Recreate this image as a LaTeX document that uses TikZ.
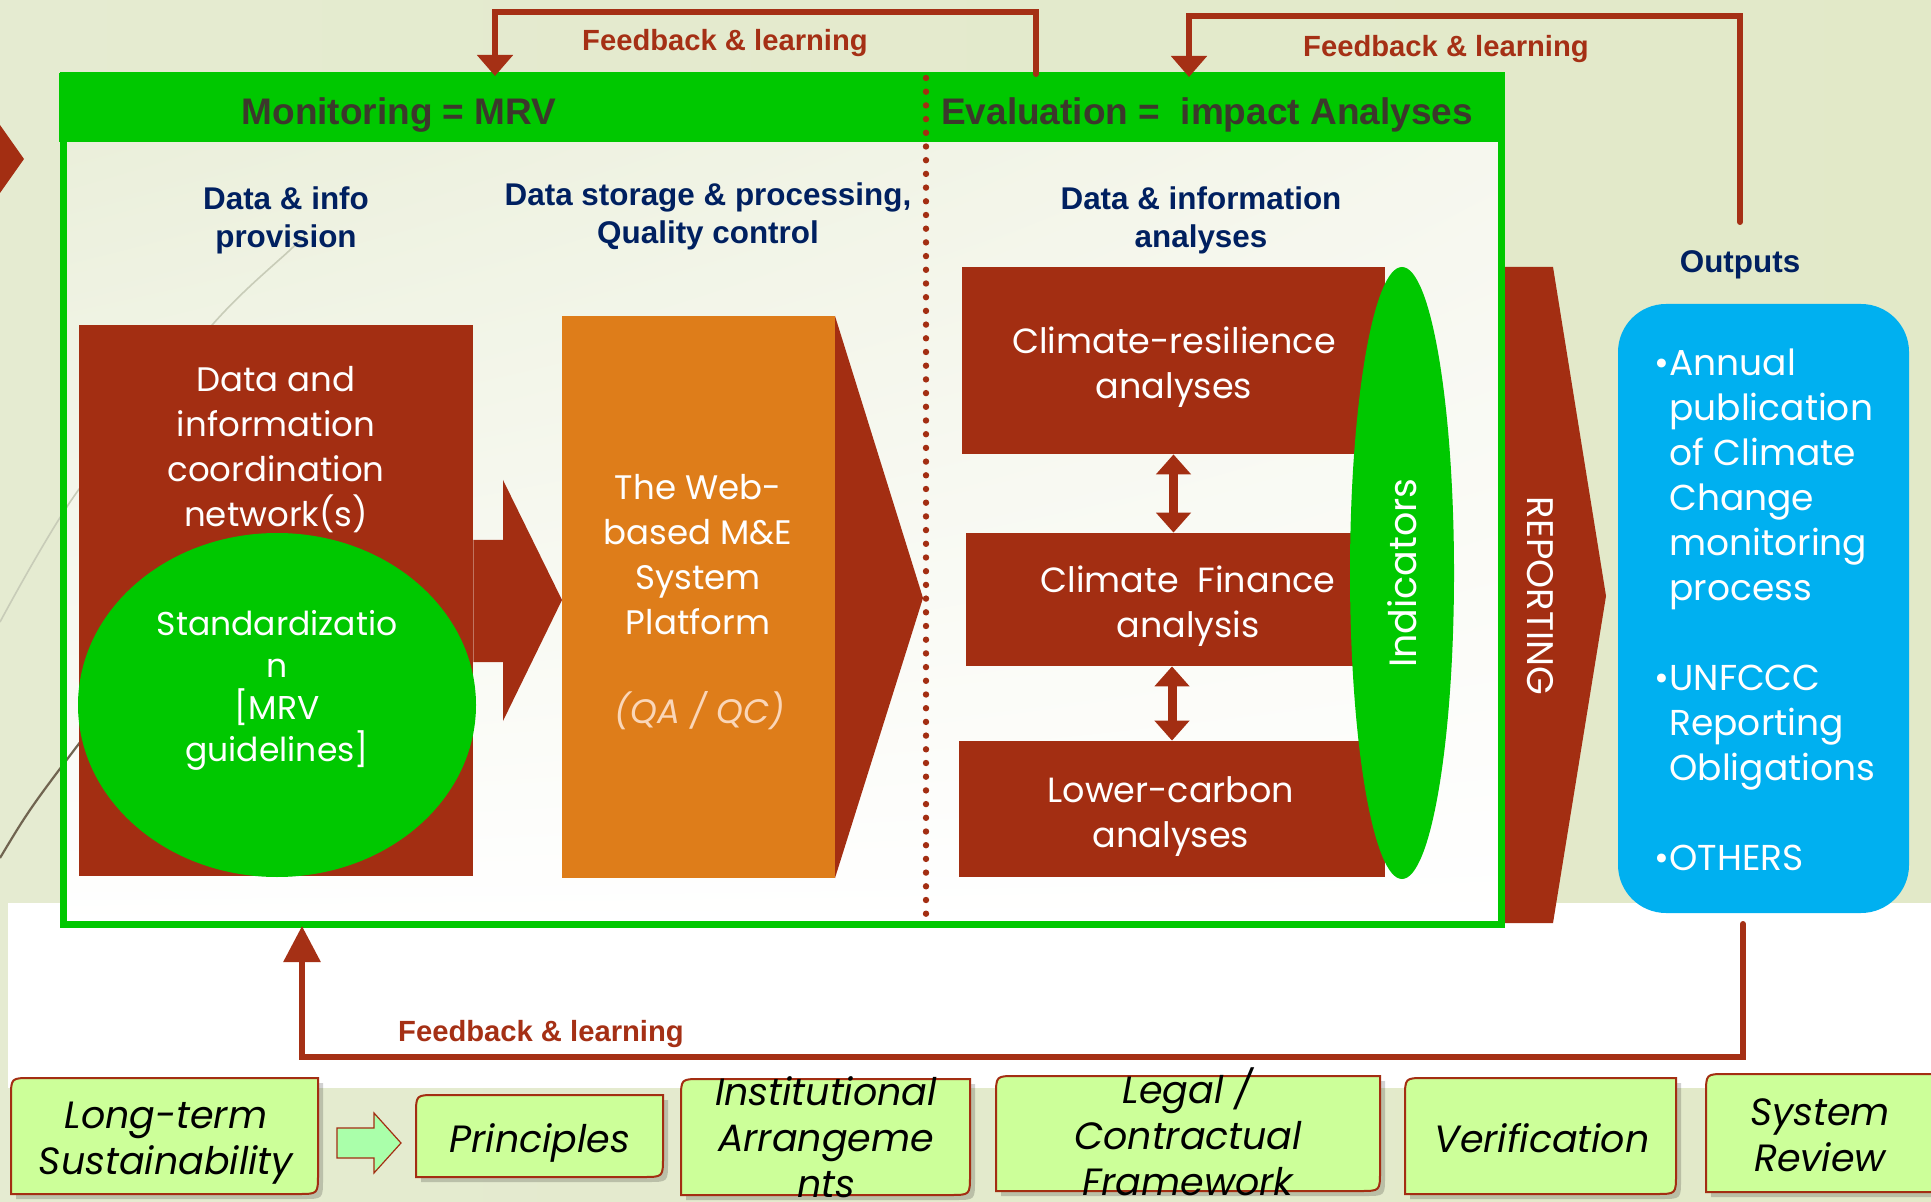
\documentclass[tikz,border=0pt]{standalone}
\usepackage{fontspec}
\setmainfont{Liberation Sans}
\newfontfamily\gothic{Poppins}
\usepackage{tikz}
\usetikzlibrary{positioning}
\usetikzlibrary{shapes.geometric}
\usetikzlibrary{arrows.meta}
\usetikzlibrary{shadings}

\definecolor{brick}{RGB}{163,46,18}
\definecolor{fbred}{RGB}{165,48,21}
\definecolor{mrvgreen}{RGB}{0,200,0}
\definecolor{platorange}{RGB}{222,125,26}
\definecolor{outcyan}{RGB}{0,176,240}
\definecolor{navytext}{RGB}{0,32,96}
\definecolor{headgrey}{RGB}{60,56,44}
\definecolor{palegreen}{RGB}{204,255,153}
\definecolor{arrowgreen}{RGB}{170,255,170}
\definecolor{qapeach}{RGB}{250,214,184}
\definecolor{bgleft}{RGB}{229,235,209}
\definecolor{bgmid}{RGB}{246,247,238}
\definecolor{bgright}{RGB}{226,233,200}
\definecolor{decoline}{RGB}{200,204,184}
\definecolor{darkdeco}{RGB}{112,100,80}

\tikzset{
	headtxt/.style={text=headgrey, font=\bfseries\fontsize{18.5}{22}\selectfont},
	coltxt/.style={text=navytext, align=center, font=\bfseries\fontsize{15.7}{19}\selectfont},
	fbtxt/.style={text=fbred, font=\bfseries\fontsize{14.6}{17}\selectfont},
	fbline/.style={draw=fbred, line width=3pt, line cap=round},
	boxtxt/.style={text=white, align=center, font=\gothic\fontsize{17}{22.5}\selectfont},
	brickbox/.style={fill=brick, inner sep=0pt},
	dblarrow/.style={draw=brick, line width=4.5pt, arrows={Triangle[width=17pt,length=10pt]-Triangle[width=17pt,length=10pt]}},
	bottxt/.style={text=black, align=center, font=\gothic\itshape\fontsize{19}{23}\selectfont},
}

% bottom box: top left and bottom right corners rounded
\newcommand{\tipbox}[4]{%
	\fill[black, opacity=0.18] (#1+5,#4+5) -- (#1+5,#2+25) .. controls (#1+5,#2+5) .. (#1+25,#2+5) -- (#3+5,#2+5) -- (#3+5,#4-15) .. controls (#3+5,#4+5) .. (#3-15,#4+5) -- cycle;
	\filldraw[fill=palegreen, draw=brick, line width=1pt] (#1,#4) -- (#1,#2+20) .. controls (#1,#2) .. (#1+20,#2) -- (#3,#2) -- (#3,#4-20) .. controls (#3,#4) .. (#3-20,#4) -- cycle;}

\begin{document}
\begin{tikzpicture}[x=0.5pt, y=-0.5pt]
	\useasboundingbox (0,0) rectangle (1931,1202);
	\clip (0,0) rectangle (1931,1202);
	
	% background
	\shade[left color=bgleft, middle color=bgmid, right color=bgright] (0,0) rectangle (1931,1202);
	\fill[white] (8,903) rectangle (1931,1088);
	\shade[upper left=bgleft!80!white, upper right=bgmid, lower left=white, lower right=white] (63,142) rectangle (1501,924);
	\draw[decoline, line width=0.8pt] plot[smooth] coordinates {(305,236) (290,250) (213,324) (77,492) (0,622)};
	\draw[darkdeco, line width=1.1pt] (0,858) .. controls (30,808) .. (100,716);
	\fill[brick] (0,125) -- (24,159) -- (0,193) -- cycle;
	
	% monitoring / evaluation frame
	\fill[mrvgreen] (59,73) rectangle (1505,142);
	\node[headtxt] (monhead) at (399,115) {Monitoring = MRV};
	\node[headtxt] (evalhead) at (1207,115) {Evaluation =\ \ impact Analyses};
	
	\node[coltxt] (provhead) at (286,220) {Data \& info\\provision};
	\node[coltxt] (storhead) at (708,216) {Data storage \& processing,\\Quality control};
	\node[coltxt] (anahead) at (1201,220) {Data \& information\\analyses};
	\node[coltxt] (outhead) at (1740,265) {Outputs};
	
	% monitoring part
	\node[brickbox, minimum width=197pt, minimum height=275.5pt] (netbox) at (276,600.5) {};
	\node[boxtxt] (nettxt) at (276,450) {Data and\\information\\coordination\\network(s)};
	\node[ellipse, fill=mrvgreen, inner sep=0pt, minimum width=199pt, minimum height=172pt] (stdell) at (277,705) {};
	\node[boxtxt, font=\gothic\fontsize{16.5}{21}\selectfont] (stdtxt) at (277,690) {Standardizatio\\n\\{[}MRV\\guidelines{]}};
	\fill[brick] (netbox.east |- 0,540) -- (503,540) -- (503,480) -- (562,600) -- (503,721) -- (503,662) -- (netbox.east |- 0,662) -- cycle;
	
	\fill[brick] (835,316) -- (923,598) -- (835,878) -- cycle;
	\node[fill=platorange, inner sep=0pt, minimum width=136.5pt, minimum height=281pt] (platbox) at (698.5,597) {};
	\node[boxtxt] (plattxt) at (698,555) {The Web-\\based M\&E\\System\\Platform};
	\node[boxtxt, text=qapeach, font=\gothic\itshape\fontsize{17}{22.5}\selectfont] (qaqc) at (700,711) {(QA / QC)};
	
	% evaluation part
	\node[brickbox, minimum width=222pt, minimum height=66.5pt] (cfbox) at (1188,599.5) {};
	\node[boxtxt, font=\gothic\fontsize{17.5}{22.5}\selectfont] (cftxt) at (1188,606) {Climate\ \ Finance\\analysis};
	\node[brickbox, minimum width=211.5pt, minimum height=93.5pt] (crbox) at (1173.5,360.5) {};
	\node[boxtxt, font=\gothic\fontsize{17.5}{22.5}\selectfont] (crtxt) at (1174,367) {Climate-resilience\\analyses};
	\node[brickbox, minimum width=213pt, minimum height=68pt] (lcbox) at (1172,809) {};
	\node[boxtxt, font=\gothic\fontsize{17.5}{22.5}\selectfont] (lctxt) at (1171,817) {Lower-carbon\\analyses};
	\draw[dblarrow] (crbox.south) -- (crbox.south |- cfbox.north);
	\draw[dblarrow] (lcbox.north |- cfbox.south) -- (lcbox.north);
	\node[ellipse, fill=mrvgreen, inner sep=0pt, rotate=90, minimum width=306pt, minimum height=52pt, boxtxt, font=\gothic\fontsize{19}{22}\selectfont] (indell) at (1402,573) {Indicators};
	
	\draw[mrvgreen, line width=3.5pt] (63,76) rectangle (1501,924);
	\draw[brick, line width=3.2pt, line cap=round, dash pattern=on 0pt off 6.85pt] (926,78) -- (926,920);
	
	% reporting and outputs
	\fill[brick] (1505,267) -- (1553,267) -- (1606,596) -- (1553,923) -- (1505,923) -- cycle;
	\node[boxtxt, rotate=-90, font=\gothic\fontsize{18.5}{20}\selectfont] (reptxt) at (1540,596) {REPORTING};
	\node[fill=outcyan, rounded corners=24pt, inner sep=0pt, minimum width=145.5pt, minimum height=304.5pt] (outbox) at (1763.5,608.5) {};
	\node[boxtxt, inner sep=0pt, align=left, anchor=north west, font=\gothic\fontsize{18}{22.5}\selectfont] (outlist) at (1669,348) {\llap{•}Annual\\publication\\of Climate\\Change\\monitoring\\process\\[22.5pt]\llap{•}UNFCCC\\Reporting\\Obligations\\[22.5pt]\llap{•}OTHERS};
	
	% feedback loops
	\coordinate (fbAstart) at (1036,74);
	\coordinate (fbAend) at (495,76);
	\draw[fbline, -{Triangle[width=17.5pt,length=10.5pt]}] (fbAstart) -- ++(0,-62) -| (fbAend);
	\node[fbtxt] (fbtxtA) at (725,43) {Feedback \& learning};
	
	\coordinate (fbBstart) at (1740,222);
	\coordinate (fbBend) at (1189,77);
	\draw[fbline, -{Triangle[width=17.5pt,length=10.5pt]}] (fbBstart) -- ++(0,-206) -| (fbBend);
	\node[fbtxt] (fbtxtB) at (1446,49) {Feedback \& learning};
	
	\coordinate (fbCstart) at (1743,924);
	\coordinate (fbCend) at (302,926);
	\draw[fbline, -{Triangle[width=18pt,length=18pt]}] (fbCstart) -- ++(0,133) -| (fbCend);
	\node[fbtxt] (fbtxtC) at (541,1034) {Feedback \& learning};
	
	% bottom row
	\tipbox{11}{1078}{318}{1194}
	\node[bottxt] (ltsus) at (166,1143) {Long-term\\Sustainability};
	\filldraw[fill=arrowgreen, draw=brick, line width=0.6pt] (337,1128) -- (374,1128) -- (374,1113) -- (401,1143) -- (374,1173) -- (374,1158) -- (337,1158) -- cycle;
	\tipbox{416}{1095}{663}{1177}
	\node[bottxt] (princ) at (540,1143) {Principles};
	\tipbox{681}{1079}{970}{1195}
	\node[bottxt] (instarr) at (826,1137) {Institutional\\Arrangeme\\nts};
	\tipbox{996}{1076}{1380}{1191}
	\node[bottxt] (legal) at (1188,1132) {Legal /\\Contractual\\Framework};
	\tipbox{1405}{1078}{1676}{1194}
	\node[bottxt] (verif) at (1542,1138) {Verification};
	\tipbox{1706}{1074}{1960}{1192}
	\node[bottxt] (sysrev) at (1820,1135) {System\\Review};
\end{tikzpicture}
\end{document}
